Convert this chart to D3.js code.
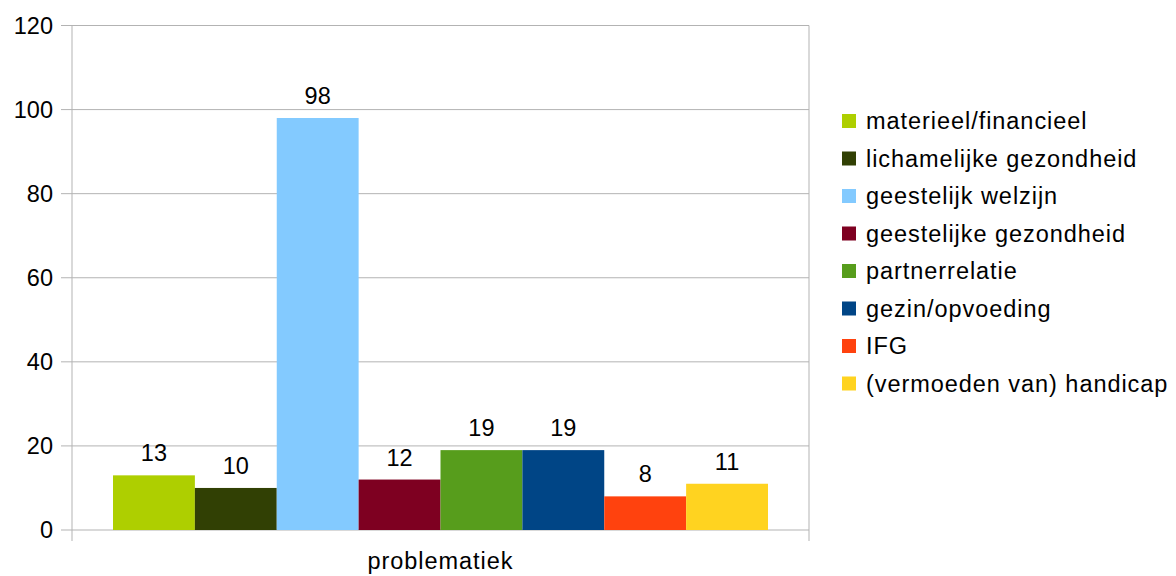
<!DOCTYPE html>
<html lang="en">
<head>
  <meta charset="UTF-8">
  <title>problematiek</title>
  <script src="https://d3js.org/d3.v7.min.js"></script>
  <style>
    body { margin: 0; background: #fff; font-family: "Liberation Sans", Arial, sans-serif; }
    svg text { fill: #000; }
    .wide { letter-spacing: 0.95px; }
  </style>
</head>
<body>
  <svg width="1176" height="576"></svg>
  <script>
    // data
    const categories = ["problematiek"];
    const series = ["materieel/financieel", "lichamelijke gezondheid", "geestelijk welzijn",
                    "geestelijke gezondheid", "partnerrelatie", "gezin/opvoeding", "IFG",
                    "(vermoeden van) handicap"];
    const values = [13, 10, 98, 12, 19, 19, 8, 11];
    const colors = ["#aecf00", "#314004", "#83caff", "#7e0021", "#579d1c", "#004586", "#ff420e", "#ffd320"];
    const yTicks = [0, 20, 40, 60, 80, 100, 120];

    const svg = d3.select("svg");
    const margin = {top: 25.5, left: 72, right: 1176 - 809, bottom: 576 - 530};
    const width = 1176 - margin.left - margin.right,
          height = 576 - margin.top - margin.bottom;
    const fontSize = 23.5;

    const g = svg.append("g").attr("transform", `translate(${margin.left},${margin.top})`);

    const x0 = d3.scaleBand().domain(categories).range([0, width]).paddingInner(0).paddingOuter(0);
    const x1 = d3.scaleBand().domain(series).range([41, x0.bandwidth() - 41]);
    const y = d3.scaleLinear().domain([0, 120]).range([height, 0]);

    // gridlines
    g.selectAll(".grid").data(yTicks).join("line")
      .attr("x1", -11).attr("x2", width)
      .attr("y1", d => y(d)).attr("y2", d => y(d))
      .attr("stroke", "#b3b3b3").attr("stroke-width", 1);

    // vertical axis lines (left and right edges)
    [0, width].forEach(xx => {
      g.append("line").attr("x1", xx).attr("x2", xx)
        .attr("y1", 0).attr("y2", height + 11)
        .attr("stroke", "#b3b3b3").attr("stroke-width", 1);
    });

    // y tick labels
    g.selectAll(".ylab").data(yTicks).join("text")
      .attr("x", -19).attr("y", d => y(d))
      .attr("dy", "0.36em")
      .attr("text-anchor", "end")
      .style("font-size", fontSize + "px")
      .text(d => d);

    // bars
    const grp = g.selectAll(".cat").data(categories).join("g")
      .attr("transform", d => `translate(${x0(d)},0)`);

    const rows = series.map((s, i) => ({name: s, value: values[i], color: colors[i]}));

    grp.selectAll("rect").data(rows).join("rect")
      .attr("x", d => x1(d.name))
      .attr("y", d => y(d.value))
      .attr("width", x1.bandwidth())
      .attr("height", d => height - y(d.value))
      .attr("fill", d => d.color);

    grp.selectAll(".val").data(rows).join("text")
      .attr("x", d => x1(d.name) + x1.bandwidth() / 2)
      .attr("y", d => y(d.value) - 14)
      .attr("text-anchor", "middle")
      .style("font-size", fontSize + "px")
      .text(d => d.value);

    // category label
    g.selectAll(".xlab").data(categories).join("text")
      .attr("class", "wide")
      .attr("x", d => x0(d) + x0.bandwidth() / 2)
      .attr("y", height + 39)
      .attr("text-anchor", "middle")
      .style("font-size", fontSize + "px")
      .text(d => d);

    // legend
    const legend = svg.append("g").attr("transform", "translate(842,121)");
    const item = legend.selectAll(".item").data(rows).join("g")
      .attr("transform", (d, i) => `translate(0,${i * 37.5})`);
    item.append("rect")
      .attr("x", 0).attr("y", -7).attr("width", 14).attr("height", 14)
      .attr("fill", d => d.color);
    item.append("text")
      .attr("class", "wide")
      .attr("x", 24).attr("y", 0).attr("dy", "0.36em")
      .style("font-size", fontSize + "px")
      .text(d => d.name);
  </script>
</body>
</html>
